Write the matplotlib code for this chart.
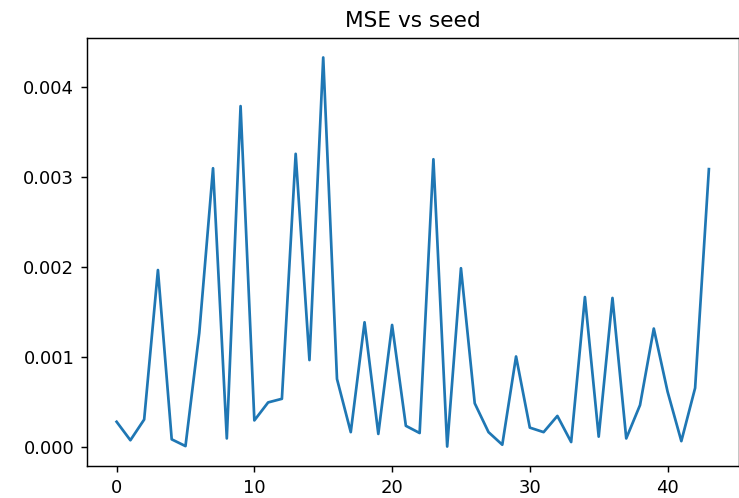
import matplotlib
matplotlib.use("Agg")
import matplotlib.pyplot as plt

# MSE per seed
seeds = list(range(44))
mse = [0.000285, 0.00008, 0.00031, 0.00197, 0.00009, 0.000015, 0.00127, 0.0031,
       0.0001, 0.00379, 0.0003, 0.0005, 0.00054, 0.00326, 0.00097, 0.00433,
       0.00076, 0.00017, 0.00139, 0.00015, 0.00136, 0.00024, 0.00016, 0.0032,
       0.00001, 0.00199, 0.00049, 0.00017, 0.00003, 0.00101, 0.00022, 0.00017,
       0.00035, 0.00006, 0.00167, 0.00012, 0.00166, 0.0001, 0.00047, 0.00132,
       0.00062, 0.00007, 0.00066, 0.00309]

dpi = 130
fig = plt.figure(figsize=(739 / dpi, 498 / dpi), dpi=dpi)
ax = fig.add_axes([87 / 739, 1 - 466 / 498, 651.5 / 739, 428 / 498])
ax.plot(seeds, mse)
ax.set_title("MSE vs seed")
ax.set_yticks([0.0, 0.001, 0.002, 0.003, 0.004])

fig.savefig("out.png", dpi=dpi)
